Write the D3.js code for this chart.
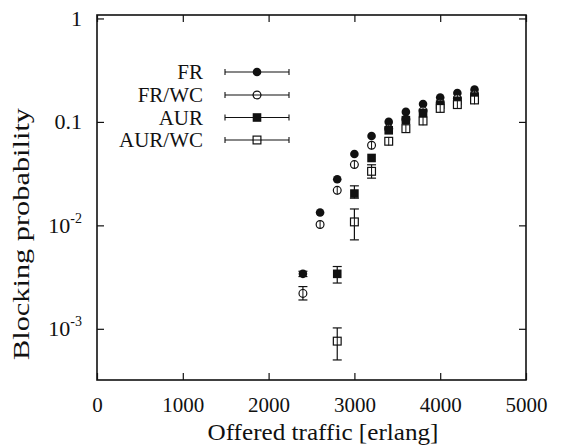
<!DOCTYPE html>
<html>
<head>
<meta charset="utf-8">
<script src="https://cdn.jsdelivr.net/npm/d3@7"></script>
<style>
  body { margin: 0; background: #fff; }
  svg text { font-family: "Liberation Serif", "Times New Roman", Times, serif; fill: #111; }
</style>
</head>
<body>
<div id="chart"></div>
<script>
// offered traffic [erlang]
const traffic = [2400, 2600, 2800, 3000, 3200, 3400, 3600, 3800, 4000, 4200, 4400];

// blocking probability per scheme (null = no point)
const fr     = [0.0034, 0.0133, 0.0279, 0.049, 0.073, 0.100, 0.125, 0.149, 0.172, 0.190, 0.205];
const frLo   = [0.0032, null, null, null, null, null, null, null, null, null, null];
const frHi   = [0.0036, null, null, null, null, null, null, null, null, null, null];

const frwc   = [0.0022, 0.0102, 0.0218, 0.0387, 0.0595, 0.086, 0.106, 0.128, 0.152, 0.168, 0.183];
const frwcLo = [0.0019, null, null, null, null, null, null, null, null, null, null];
const frwcHi = [0.00256, null, null, null, null, null, null, null, null, null, null];

const aur    = [null, null, 0.0034, 0.0203, 0.0448, 0.083, 0.104, 0.122, 0.147, 0.160, 0.176];
const aurLo  = [null, null, 0.00277, 0.0183, null, null, null, null, null, null, null];
const aurHi  = [null, null, 0.0040, 0.0241, null, null, null, null, null, null, null];

const aurwc   = [null, null, 0.00076, 0.0108, 0.0333, 0.065, 0.086, 0.102, 0.135, 0.147, 0.163];
const aurwcLo = [null, null, 0.0005, 0.00724, 0.0286, null, null, null, null, null, null];
const aurwcHi = [null, null, 0.00102, 0.0144, 0.0385, null, null, null, null, null, null];

const seriesNames = ['FR', 'FR/WC', 'AUR', 'AUR/WC'];
const xTicks = [0, 1000, 2000, 3000, 4000, 5000];
const yTicks = [1e-3, 1e-2, 0.1, 1];
const yTickLabels = [['10', '-3'], ['10', '-2'], ['0.1', ''], ['1', '']];

const series = [
    {name: seriesNames[0], vals: fr, lo: frLo, hi: frHi, shape: 'circle', filled: true},
    {name: seriesNames[1], vals: frwc, lo: frwcLo, hi: frwcHi, shape: 'circle', filled: false},
    {name: seriesNames[2], vals: aur, lo: aurLo, hi: aurHi, shape: 'square', filled: true},
    {name: seriesNames[3], vals: aurwc, lo: aurwcLo, hi: aurwcHi, shape: 'square', filled: false}
];

const W = 565, H = 448;
const plot = {left: 97, right: 526, top: 15, bottom: 380};
const FONT = '"Liberation Serif", "Times New Roman", Times, serif';

const x = d3.scaleLinear().domain([0, 5000]).range([plot.left, plot.right]);
const y = d3.scaleLog().domain([3.2e-4, 1.08]).range([plot.bottom, plot.top]);

const svg = d3.select('#chart').append('svg')
    .attr('width', W)
    .attr('height', H)
    .attr('font-family', FONT);

// frame
svg.append('rect')
    .attr('x', plot.left).attr('y', plot.top)
    .attr('width', plot.right - plot.left)
    .attr('height', plot.bottom - plot.top)
    .attr('fill', 'none')
    .attr('stroke', '#111')
    .attr('stroke-width', 1.6);

function styleAxis(g) {
    g.attr('font-family', FONT);
    g.select('.domain').remove();
    g.selectAll('.tick line').attr('stroke', '#111').attr('stroke-width', 1.2);
}

svg.append('g')
    .attr('transform', 'translate(0,' + plot.bottom + ')')
    .call(d3.axisBottom(x).tickValues(xTicks).tickSizeInner(-7).tickSizeOuter(0).tickPadding(17.5)
        .tickFormat(d3.format('d')))
    .call(styleAxis)
    .call(g => g.selectAll('.tick text')
        .attr('font-size', 21)
        .attr('fill', '#111'));

svg.append('g')
    .attr('transform', 'translate(0,' + plot.top + ')')
    .call(d3.axisTop(x).tickValues(xTicks).tickSizeInner(-7).tickSizeOuter(0).tickFormat(''))
    .call(styleAxis);

svg.append('g')
    .attr('transform', 'translate(' + plot.left + ',0)')
    .call(d3.axisLeft(y).tickValues(yTicks).tickSizeInner(-7).tickSizeOuter(0).tickFormat(''))
    .call(styleAxis);

svg.append('g')
    .attr('transform', 'translate(' + plot.right + ',0)')
    .call(d3.axisRight(y).tickValues(yTicks).tickSizeInner(-7).tickSizeOuter(0).tickFormat(''))
    .call(styleAxis);

// y tick labels with superscripts
yTicks.forEach(function (v, i) {
    let t = svg.append('text')
        .attr('x', 82)
        .attr('y', y(v) + 7.5)
        .attr('text-anchor', 'end')
        .attr('font-size', 22);
    t.append('tspan').text(yTickLabels[i][0]);
    if (yTickLabels[i][1]) {
        t.append('tspan')
            .attr('font-size', 14)
            .attr('dy', -10)
            .text(yTickLabels[i][1]);
    }
});

// axis titles
svg.append('text')
    .attr('x', 323)
    .attr('y', 440)
    .attr('text-anchor', 'middle')
    .attr('font-size', 23)
    .attr('textLength', 231)
    .attr('lengthAdjust', 'spacingAndGlyphs')
    .text('Offered traffic [erlang]');

svg.append('text')
    .attr('transform', 'translate(29,234) rotate(-90)')
    .attr('text-anchor', 'middle')
    .attr('font-size', 23)
    .attr('textLength', 252)
    .attr('lengthAdjust', 'spacingAndGlyphs')
    .text('Blocking probability');

const R = 4.3, S = 8.6, CAP = 4.5;

function drawMarker(g, s, cx, cy) {
    let m;
    if (s.shape === 'circle') {
        m = g.append('circle').attr('cx', cx).attr('cy', cy).attr('r', s.filled ? R : R - 0.4);
    } else {
        let side = s.filled ? S : S - 0.8;
        m = g.append('rect').attr('x', cx - side / 2).attr('y', cy - side / 2)
            .attr('width', side).attr('height', side);
    }
    m.attr('fill', s.filled ? '#111' : '#fff')
        .attr('stroke', '#111')
        .attr('stroke-width', s.filled ? 0 : 1.2);
}

// data points with error bars
series.forEach(function (s) {
    let g = svg.append('g').attr('class', 'series');
    traffic.forEach(function (t, i) {
        let v = s.vals[i];
        if (v === null) return;
        let cx = x(t), cy = y(v);
        let lo = s.lo[i], hi = s.hi[i];
        if (lo !== null && hi !== null) {
            g.append('line')
                .attr('x1', cx).attr('x2', cx)
                .attr('y1', y(lo)).attr('y2', y(hi))
                .attr('stroke', '#111').attr('stroke-width', 1.2);
            [lo, hi].forEach(function (e) {
                g.append('line')
                    .attr('x1', cx - CAP).attr('x2', cx + CAP)
                    .attr('y1', y(e)).attr('y2', y(e))
                    .attr('stroke', '#111').attr('stroke-width', 1.2);
            });
        }
        drawMarker(g, s, cx, cy);
        if (!s.filled) {
            // error bar line seen through the hollow marker
            g.append('line')
                .attr('x1', cx).attr('x2', cx)
                .attr('y1', cy - R).attr('y2', cy + R)
                .attr('stroke', '#111').attr('stroke-width', 1);
        }
    });
});

// legend
const legend = svg.append('g').attr('class', 'legend');
const legendRows = [72, 95, 117.5, 140];
series.forEach(function (s, i) {
    let ly = legendRows[i];
    legend.append('text')
        .attr('x', 203)
        .attr('y', ly + 7)
        .attr('text-anchor', 'end')
        .attr('font-size', 21)
        .text(s.name);
    legend.append('line')
        .attr('x1', 225).attr('x2', 289)
        .attr('y1', ly).attr('y2', ly)
        .attr('stroke', '#111').attr('stroke-width', 1.1);
    [225, 289].forEach(function (ex) {
        legend.append('line')
            .attr('x1', ex).attr('x2', ex)
            .attr('y1', ly - 3).attr('y2', ly + 3)
            .attr('stroke', '#111').attr('stroke-width', 1.1);
    });
    drawMarker(legend, s, 257, ly);
    if (!s.filled) {
        legend.append('line')
            .attr('x1', 257 - R).attr('x2', 257 + R)
            .attr('y1', ly).attr('y2', ly)
            .attr('stroke', '#111').attr('stroke-width', 1);
    }
});
</script>
</body>
</html>
